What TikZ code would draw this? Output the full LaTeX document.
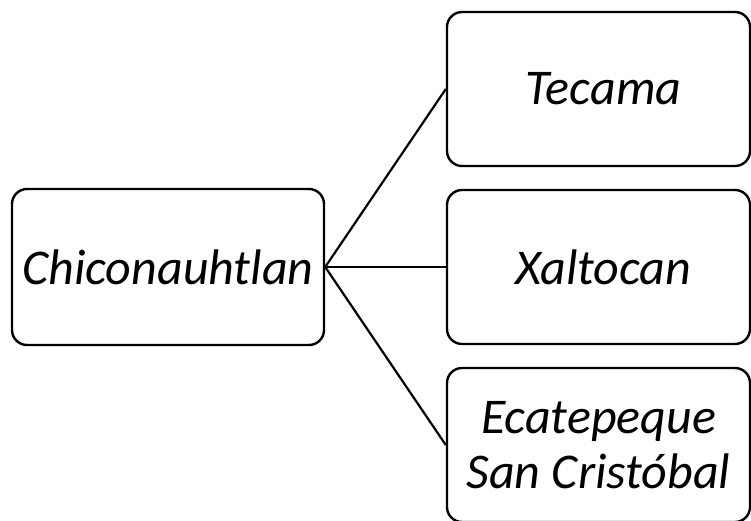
\documentclass[tikz,border=0pt]{standalone}
\usepackage{fontspec}
\setmainfont{Carlito}
\begin{document}
\begin{tikzpicture}[x=1pt,y=-1pt,
  box/.style={draw=black, line width=2.4pt, rounded corners=15pt, fill=white,
    inner sep=0pt, align=center,
    font=\fontsize{50}{55}\selectfont\itshape},
  link/.style={draw=black, line width=2.2pt}]
\useasboundingbox[fill=white] (0,0) rectangle (751,521);
\node[box, minimum width=312pt, minimum height=156pt] (root) at (168,267) {Chiconauhtlan};
\node[box, minimum width=303pt, minimum height=154pt] (a) at (598.5,89) {\hspace*{10pt}Tecama};
\node[box, minimum width=303pt, minimum height=154pt] (b) at (598.5,267) {\hspace*{10pt}Xaltocan};
\node[box, minimum width=303pt, minimum height=154pt] (c) at (598.5,445) {Ecatepeque\\San Cristóbal};
\draw[link] (root.east) -- (a.west);
\draw[link] (root.east) -- (b.west);
\draw[link] (root.east) -- (c.west);
\end{tikzpicture}
\end{document}
